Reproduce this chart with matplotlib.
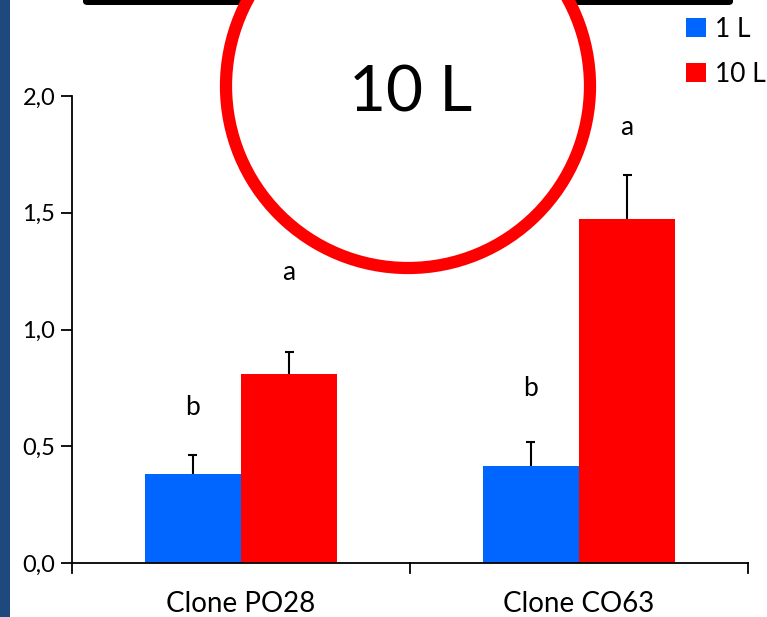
import matplotlib
matplotlib.use("Agg")
import matplotlib.pyplot as plt
import numpy as np
from matplotlib.patches import Ellipse, Rectangle, FancyBboxPatch

plt.rcParams['font.family'] = ['Lato', 'DejaVu Sans']

# Data
clones = ['Clone PO28', 'Clone CO63']
vol_1l = [0.381, 0.415]
vol_1l_err = [0.082, 0.103]
vol_10l = [0.810, 1.473]
vol_10l_err = [0.094, 0.190]
letters_1l = ['b', 'b']
letters_10l = ['a', 'a']
yticks = [0.0, 0.5, 1.0, 1.5, 2.0]

W, H = 767, 617
fig = plt.figure(figsize=(W / 100, H / 100), dpi=100)


def fx(px):
    return px / W


def fy(py):
    return 1 - py / H


# Axes placed in pixel terms
ax = fig.add_axes([fx(72), fy(563), fx(748) - fx(72), fy(96) - fy(563)])

centers = np.array([0.5, 1.5])
width = 0.285
blue = '#0066FF'
red = '#FF0000'

x1 = centers - width / 2
x10 = centers + width / 2
ax.bar(x1, vol_1l, width, color=blue, label='1 L', zorder=2)
ax.bar(x10, vol_10l, width, color=red, label='10 L', zorder=2)

# Upper-only error bars
cap = 0.013
for xs, vals, errs in [(x1, vol_1l, vol_1l_err), (x10, vol_10l, vol_10l_err)]:
    tops = np.array(vals) + np.array(errs)
    ax.vlines(xs, vals, tops, color='black', lw=1.5, zorder=3)
    ax.hlines(tops, xs - cap, xs + cap, color='black', lw=1.5, zorder=3)

# Significance letters above each bar
letter_y_1l = [0.664, 0.749]
letter_y_10l = [1.246, 1.867]
for xc, yl, t in zip(x1, letter_y_1l, letters_1l):
    ax.text(xc, yl, t, ha='center', va='center', fontsize=19)
for xc, yl, t in zip(x10, letter_y_10l, letters_10l):
    ax.text(xc, yl, t, ha='center', va='center', fontsize=19)

ax.set_xlim(0, 2)
ax.set_ylim(0, 2)
ax.set_yticks(yticks)
ax.set_yticklabels([f'{t:.1f}'.replace('.', ',') for t in yticks], fontsize=17)
ax.set_xticks(centers)
ax.set_xticklabels(clones, fontsize=20)
ax.tick_params(axis='x', length=0, pad=20)
ax.tick_params(axis='y', length=8, width=1.3, direction='out', pad=4)

# Category boundary ticks on the x axis
for xb in [0, 1, 2]:
    ax.plot([xb, xb], [0, -0.043], color='black', lw=1.3, clip_on=False, zorder=4)

for s in ['top', 'right']:
    ax.spines[s].set_visible(False)
ax.spines['left'].set_linewidth(1.3)
ax.spines['bottom'].set_linewidth(1.3)

leg = ax.legend(loc='upper left', frameon=False, fontsize=19, handlelength=0.75,
                handleheight=0.75, handletextpad=0.35, labelspacing=0.75,
                borderpad=0, borderaxespad=0)
leg.set_bbox_to_anchor((fx(686), fy(17)), transform=fig.transFigure)

# Slide decorations: left strip, top bar, circled label
fig.patches.append(Rectangle((0, 0), fx(10), 1, transform=fig.transFigure,
                             facecolor='#1F497D', edgecolor='none', zorder=0))
fig.patches.append(FancyBboxPatch((fx(83), fy(5)), fx(733) - fx(83), fy(-10) - fy(5),
                                  boxstyle='round,pad=0,rounding_size=0.006',
                                  transform=fig.transFigure, facecolor='black',
                                  edgecolor='none', zorder=5))
fig.patches.append(Ellipse((fx(408), fy(86)), fx(2 * 182), 2 * 182 / H,
                           transform=fig.transFigure, facecolor='white',
                           edgecolor=red, linewidth=8.8, zorder=6))
fig.text(fx(411), fy(94), '10 L', ha='center', va='center', fontsize=46, zorder=7)

fig.savefig('out.png', dpi=100)
